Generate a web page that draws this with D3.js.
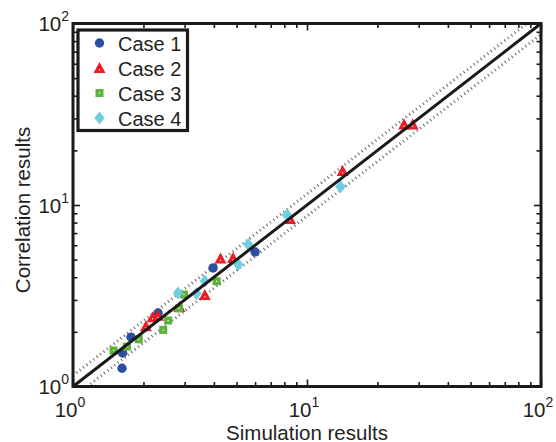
<!DOCTYPE html>
<html>
<head>
<meta charset="utf-8">
<script src="https://cdn.jsdelivr.net/npm/d3@7/dist/d3.min.js"></script>
<style>
  html, body { margin: 0; padding: 0; background: #fff; }
  svg { display: block; }
  text { font-family: "Liberation Sans", Arial, Helvetica, sans-serif; fill: #231f20; }
</style>
</head>
<body>
<svg id="chart" width="556" height="442"></svg>
<script>
// ---- data ----
const case1X = [1.62, 1.63, 1.77, 2.31, 3.97, 6.0];
const case1Y = [1.26, 1.53, 1.87, 2.54, 4.50, 5.51];
const case2X = [2.05, 2.19, 2.31, 2.85, 3.66, 4.27, 4.83, 8.46, 14.2, 26.0, 28.3];
const case2Y = [2.15, 2.41, 2.45, 2.74, 3.19, 5.07, 5.10, 8.37, 15.4, 27.8, 27.8];
const case3X = [1.49, 1.70, 1.91, 2.43, 2.55, 2.84, 2.98, 4.11];
const case3Y = [1.58, 1.66, 1.82, 2.05, 2.31, 2.69, 3.21, 3.80];
const case4X = [2.81, 3.37, 3.66, 5.09, 5.61, 8.21, 13.9];
const case4Y = [3.27, 3.25, 3.81, 4.70, 6.06, 8.81, 12.6];
const seriesNames = ["Case 1", "Case 2", "Case 3", "Case 4"];
const majorTicks = [1, 10, 100];
const tickExponents = ["0", "1", "2"];
const minorTicks = [2,3,4,5,6,7,8,9,20,30,40,50,60,70,80,90];
const tolerance = 1.15; // dotted bands y = 1.15x and y = x/1.15
const xTitle = "Simulation results";
const yTitle = "Correlation results";

// ---- layout ----
const L = 73, R = 541, T = 23.5, B = 386.5;
const svg = d3.select("#chart");
const x = d3.scaleLog().domain([1, 100]).range([L, R]);
const y = d3.scaleLog().domain([1, 100]).range([B, T]);

const colors = ["#2c4ea3", "#ec1c24", "#5cb338", "#6dcfe0"];
const shapes = ["circle", "triangle", "square", "diamond"];

function markerPath(shape) {
  if (shape === "triangle") return "M0,-6 L6,5 L-6,5 Z";
  if (shape === "square") return "M-4,-4 H4 V4 H-4 Z";
  if (shape === "diamond") return "M0,-6.5 L5.2,0 L0,6.5 L-5.2,0 Z";
  return d3.symbol(d3.symbolCircle, Math.PI * 4.7 * 4.7)();
}
function drawMarker(g, shape, color) {
  g.append("path").attr("d", markerPath(shape)).attr("fill", color);
  if (shape === "triangle" || shape === "square") {
    g.append("rect").attr("x", -0.6).attr("y", shape === "triangle" ? 1.2 : -0.6)
      .attr("width", 1.2).attr("height", 1.2).attr("fill", "#fff");
  }
}

// dotted tolerance lines
svg.append("clipPath").attr("id", "plotclip")
  .append("rect").attr("x", L).attr("y", T).attr("width", R - L).attr("height", B - T);
const lineGen = d3.line().x(d => x(d[0])).y(d => y(d[1]));
const bandUpper = [[1, tolerance], [100 / tolerance, 100]];
const bandLower = [[tolerance, 1], [100, 100 / tolerance]];
[bandUpper, bandLower].forEach(pts => {
  svg.append("path").attr("d", lineGen(pts))
    .attr("fill", "none").attr("stroke", "#5a5a5a")
    .attr("stroke-width", 3).attr("stroke-dasharray", "0.9 3.4")
    .attr("clip-path", "url(#plotclip)");
});

// markers
const allX = [case1X, case2X, case3X, case4X];
const allY = [case1Y, case2Y, case3Y, case4Y];
allX.forEach((xs, si) => {
  xs.forEach((xv, i) => {
    const g = svg.append("g").attr("transform", `translate(${x(xv)},${y(allY[si][i])})`);
    drawMarker(g, shapes[si], colors[si]);
  });
});

// y = x line
svg.append("path").attr("d", lineGen([[1, 1], [100, 100]]))
  .attr("fill", "none").attr("stroke", "#1a1a1a").attr("stroke-width", 3);

// axes ticks (inside, on all four sides)
function ticks(axisFn, scale, vals, size, transform) {
  const a = axisFn(scale).tickValues(vals).tickSizeInner(-size).tickSizeOuter(0).tickFormat("");
  const g = svg.append("g").attr("transform", transform).call(a);
  g.select(".domain").remove();
  g.selectAll(".tick line").attr("stroke", "#1a1a1a").attr("stroke-width", 1.6);
}
ticks(d3.axisBottom, x, majorTicks, 7, `translate(0,${B})`);
ticks(d3.axisBottom, x, minorTicks, 4.5, `translate(0,${B})`);
ticks(d3.axisTop, x, majorTicks, 7, `translate(0,${T})`);
ticks(d3.axisTop, x, minorTicks, 4.5, `translate(0,${T})`);
ticks(d3.axisLeft, y, majorTicks, 7, `translate(${L},0)`);
ticks(d3.axisLeft, y, minorTicks, 4.5, `translate(${L},0)`);
ticks(d3.axisRight, y, majorTicks, 7, `translate(${R},0)`);
ticks(d3.axisRight, y, minorTicks, 4.5, `translate(${R},0)`);

// frame
svg.append("rect").attr("x", L).attr("y", T).attr("width", R - L).attr("height", B - T)
  .attr("fill", "none").attr("stroke", "#1a1a1a").attr("stroke-width", 3);

// tick labels
majorTicks.forEach((v, i) => {
  const t = svg.append("text").attr("x", x(v) - 3).attr("y", 416.5).attr("text-anchor", "middle")
    .style("font-size", "20.5px");
  t.append("tspan").text("10");
  t.append("tspan").attr("dy", -10).style("font-size", "14px").text(tickExponents[i]);
});
majorTicks.forEach((v, i) => {
  const t = svg.append("text").attr("x", 69).attr("y", y(v) + 7.5).attr("text-anchor", "end")
    .style("font-size", "20.5px");
  t.append("tspan").text("10");
  t.append("tspan").attr("dy", -10).style("font-size", "14px").text(tickExponents[i]);
});

// axis titles
svg.append("text").attr("x", (L + R) / 2).attr("y", 439.5).attr("text-anchor", "middle")
  .style("font-size", "20.5px").text(xTitle);
svg.append("text").attr("transform", `translate(30,${(T + B) / 2 + 5}) rotate(-90)`)
  .attr("text-anchor", "middle").style("font-size", "20.5px").text(yTitle);

// legend
const lg = svg.append("g");
lg.append("rect").attr("x", 78).attr("y", 30).attr("width", 109.5).attr("height", 100.5)
  .attr("fill", "#fff").attr("stroke", "#1a1a1a").attr("stroke-width", 3.2);
seriesNames.forEach((name, i) => {
  const cy = 43 + i * 25;
  const g = lg.append("g").attr("transform", `translate(99.5,${cy})`);
  drawMarker(g, shapes[i], colors[i]);
  lg.append("text").attr("x", 118).attr("y", cy + 7.5).style("font-size", "20px").text(name);
});
</script>
</body>
</html>
